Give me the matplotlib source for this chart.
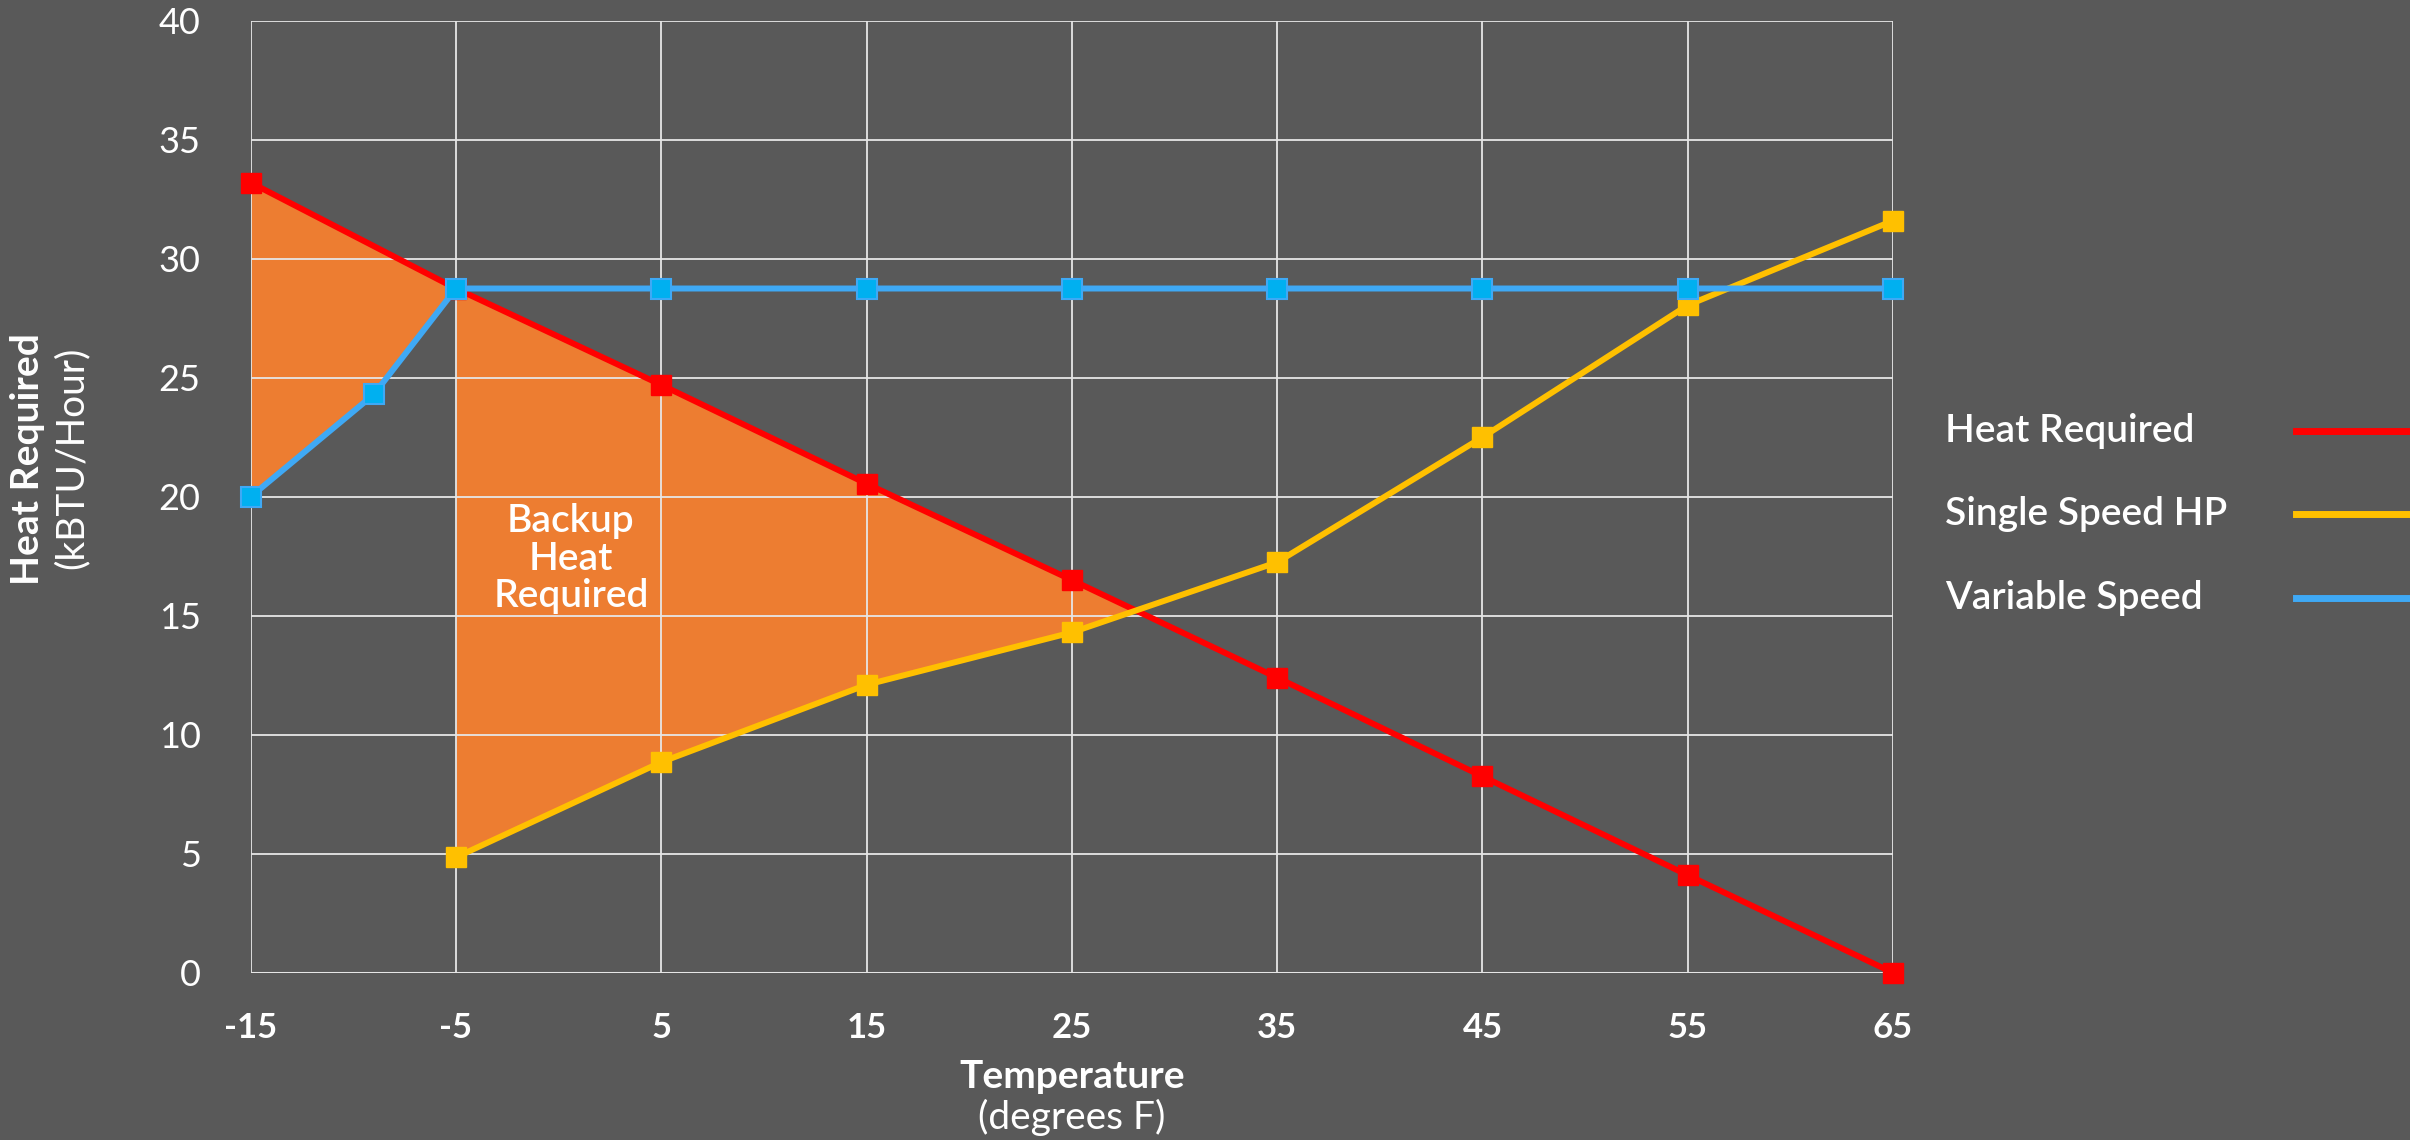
import numpy as np
import matplotlib
matplotlib.use("Agg")
import matplotlib.pyplot as plt
from matplotlib.lines import Line2D

plt.rcParams['font.family'] = ['Lato', 'DejaVu Sans']

# data
temps = [-15, -5, 5, 15, 25, 35, 45, 55, 65]
heat_required = [33.2, 28.75, 24.7, 20.55, 16.5, 12.4, 8.25, 4.1, 0.0]

single_temps = [-5, 5, 15, 25, 35, 45, 55, 65]
single_speed = [4.85, 8.85, 12.1, 14.3, 17.25, 22.5, 28.05, 31.6]

var_temps = [-15, -9, -5, 5, 15, 25, 35, 45, 55, 65]
variable_speed = [20.0, 24.3, 28.75, 28.75, 28.75, 28.75, 28.75, 28.75, 28.75, 28.75]

y_ticks = [0, 5, 10, 15, 20, 25, 30, 35, 40]
x_ticks = temps

legend_labels = ['Heat Required', 'Single Speed HP', 'Variable Speed']

BG = '#595959'
RED = '#FF0000'
YELLOW = '#FFC000'
BLUE_LINE = '#3FA9F5'
BLUE_MARK = '#00B0F0'
ORANGE = '#ED7D31'

fig = plt.figure(figsize=(24.1, 11.4), dpi=100, facecolor=BG)
ax = fig.add_axes([0.104, 0.1467, 0.6815, 0.8351])
ax.set_facecolor(BG)

# backup heat area: heat required minus what the heat pump delivers
xa = np.array(var_temps[:3], dtype=float)
ax.fill_between(xa, np.interp(xa, temps, heat_required), variable_speed[:3],
                color=ORANGE, linewidth=0, zorder=0.2)
xb = np.array(single_temps, dtype=float)
hb = np.interp(xb, temps, heat_required)
ax.fill_between(xb, hb, single_speed, where=hb >= np.array(single_speed),
                interpolate=True, color=ORANGE, linewidth=0, zorder=0.2)

ax.plot(temps, heat_required, color=RED, lw=4.3, marker='s', ms=15,
        mfc=RED, mec=RED, zorder=3, clip_on=False)
ax.plot(single_temps, single_speed, color=YELLOW, lw=4.3, marker='s', ms=15,
        mfc=YELLOW, mec=YELLOW, zorder=4, clip_on=False)
ax.plot(var_temps, variable_speed, color=BLUE_LINE, lw=4.3, marker='s', ms=15,
        mfc=BLUE_MARK, mec=BLUE_LINE, mew=1.5, zorder=5, clip_on=False)

ax.text(0.6, 17.4, 'Backup\nHeat\nRequired', ha='center', va='center',
        color='white', fontsize=28, fontweight='semibold', linespacing=1.05,
        zorder=6)

ax.set_xlim(-15, 65)
ax.set_ylim(0, 40)
ax.set_xticks(x_ticks)
ax.set_yticks(y_ticks)
ax.set_xticklabels([str(t) for t in x_ticks], fontsize=25, fontweight='bold',
                   color='white')
ax.set_yticklabels([str(t) for t in y_ticks], fontsize=26, fontweight='normal',
                   color='white')
ax.tick_params(axis='both', length=0)
ax.tick_params(axis='x', pad=28)
ax.tick_params(axis='y', pad=36)
for s in ax.spines.values():
    s.set_visible(False)
ax.set_axisbelow(True)
ax.grid(True, color='#E6E6E6', linewidth=1.3)
ax.axhline(0, color='#E6E6E6', linewidth=2.2, zorder=0.6)

# axis titles
pos = ax.get_position()
xc = (pos.x0 + pos.x1) / 2
fig.text(xc, 1 - 1076 / 1140, 'Temperature', ha='center', va='center',
         color='white', fontsize=28, fontweight='bold')
fig.text(xc, 1 - 1117 / 1140, '(degrees F)', ha='center', va='center',
         color='white', fontsize=28, fontweight='normal')
fig.text(28 / 2410, 1 - 459 / 1140, 'Heat Required', ha='center', va='center',
         rotation=90, color='white', fontsize=28, fontweight='bold')
fig.text(72 / 2410, 1 - 458 / 1140, '(kBTU/Hour)', ha='center', va='center',
         rotation=90, color='white', fontsize=28, fontweight='normal')

# legend on the right: text column, then line samples
leg_colors = [RED, YELLOW, BLUE_LINE]
leg_y = [431, 514, 598]
for lab, c, yy in zip(legend_labels, leg_colors, leg_y):
    yf = 1 - yy / 1140
    fig.text(1945 / 2410, yf, lab, ha='left', va='center', color='white',
             fontsize=28, fontweight='semibold')
    fig.add_artist(Line2D([2296 / 2410, 1.0], [yf, yf], color=c, lw=5))

fig.savefig('out.png', dpi=100, facecolor=BG)
